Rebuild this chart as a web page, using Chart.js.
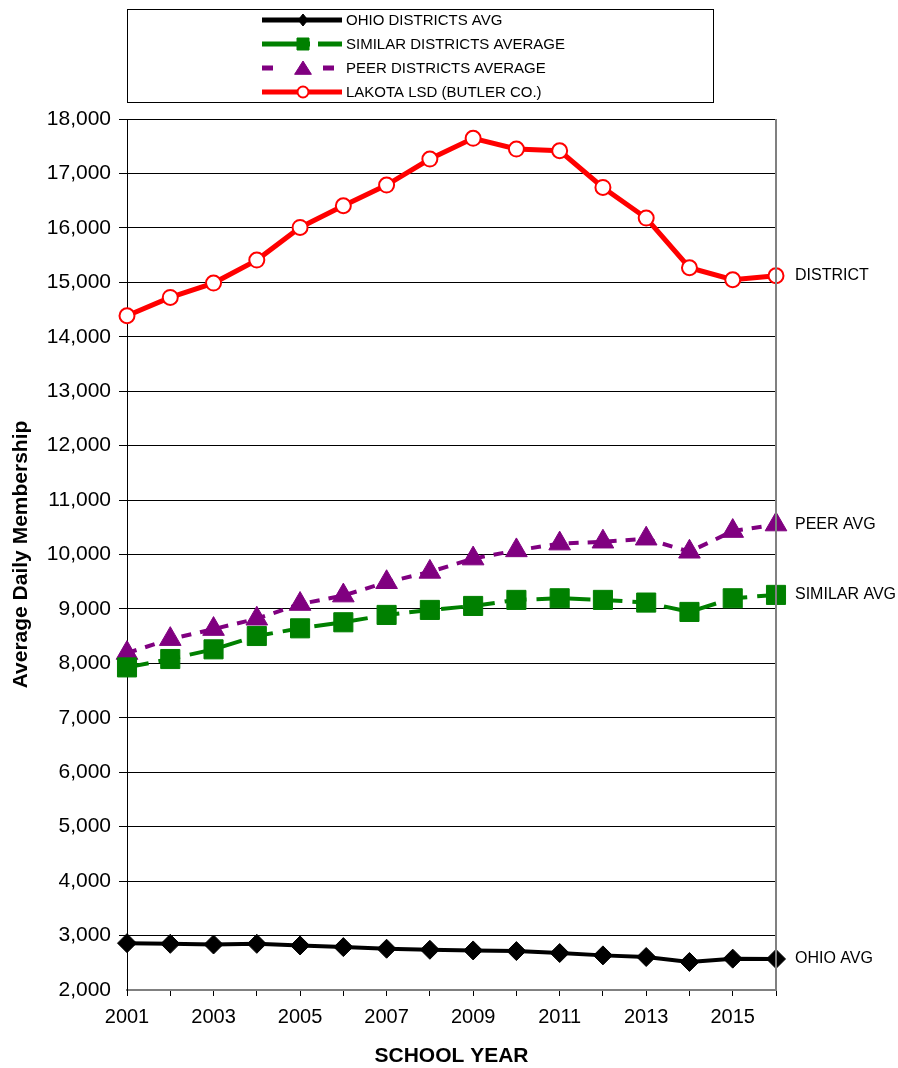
<!DOCTYPE html>
<html>
<head>
<meta charset="utf-8">
<script src="https://cdn.jsdelivr.net/npm/chart.js@4.4.1/dist/chart.umd.min.js"></script>
<style>
  html, body { margin: 0; padding: 0; background: #fff; }
  #wrap { width: 898px; height: 1068px; }
</style>
</head>
<body>
<div id="wrap"><canvas id="chart" width="898" height="1068"></canvas></div>
<script>
// data
const years = ['2001','2002','2003','2004','2005','2006','2007','2008','2009','2010','2011','2012','2013','2014','2015','2016'];
const ohioAvg    = [2861, 2848, 2836, 2848, 2818, 2788, 2758, 2739, 2727, 2715, 2679, 2636, 2606, 2515, 2576, 2570];
const similarAvg = [7926, 8080, 8258, 8503, 8644, 8755, 8890, 8982, 9055, 9166, 9196, 9166, 9117, 8945, 9196, 9258];
const peerAvg    = [8190, 8445, 8630, 8820, 9090, 9245, 9490, 9680, 9925, 10075, 10200, 10235, 10290, 10050, 10430, 10550];
const lakota     = [14386, 14723, 14986, 15408, 16008, 16406, 16786, 17264, 17645, 17448, 17417, 16743, 16180, 15268, 15047, 15121];
const seriesNames = ['OHIO DISTRICTS AVG', 'SIMILAR DISTRICTS AVERAGE', 'PEER DISTRICTS AVERAGE', 'LAKOTA LSD (BUTLER CO.)'];
const endLabels = ['OHIO AVG', 'SIMILAR AVG', 'PEER AVG', 'DISTRICT'];
const yMin = 2000, yMax = 18000, yStep = 1000;

Chart.defaults.font.family = '"Liberation Sans", Arial, sans-serif';
Chart.defaults.color = '#000';

// small marker painter for the legend samples
function drawMarker(ctx, style, x, y, r, fill, stroke, lw) {
  ctx.save();
  ctx.setLineDash([]);
  ctx.beginPath();
  if (style === 'circle') {
    ctx.arc(x, y, r, 0, Math.PI * 2);
  } else if (style === 'rect') {
    ctx.rect(x - r, y - r, r * 2, r * 2);
  } else if (style === 'rectRot') {
    ctx.moveTo(x, y - r); ctx.lineTo(x + r * 0.8, y); ctx.lineTo(x, y + r); ctx.lineTo(x - r * 0.8, y);
    ctx.closePath();
  } else if (style === 'triangle') {
    ctx.moveTo(x, y - r); ctx.lineTo(x + r * 1.2, y + r * 0.9); ctx.lineTo(x - r * 1.2, y + r * 0.9);
    ctx.closePath();
  }
  ctx.fillStyle = fill;
  ctx.fill();
  ctx.lineWidth = lw;
  ctx.strokeStyle = stroke;
  ctx.stroke();
  ctx.restore();
}

// legend sample look (dash pattern across the short sample line, marker size)
const legendDash = [[], [48, 8, 40], [11, 50, 11, 50], []];
const legendMarker = { rectRot: 6, rect: 6, triangle: 7, circle: 5.5 };

const decorPlugin = {
  id: 'decor',
  afterDraw(chart) {
    const ctx = chart.ctx;
    const area = chart.chartArea;

    // gray frame on the right side of the plot
    ctx.save();
    ctx.strokeStyle = '#808080';
    ctx.lineWidth = 2;
    ctx.beginPath();
    ctx.moveTo(area.right, area.top);
    ctx.lineTo(area.right, area.bottom);
    ctx.stroke();
    ctx.restore();

    // labels at the end of each line
    ctx.save();
    ctx.font = '16px "Liberation Sans", Arial, sans-serif';
    ctx.fillStyle = '#000';
    ctx.textBaseline = 'middle';
    ctx.textAlign = 'left';
    chart.data.datasets.forEach((ds, i) => {
      const pts = chart.getDatasetMeta(i).data;
      const last = pts[pts.length - 1];
      ctx.fillText(endLabels[i], area.right + 19, last.y);
    });
    ctx.restore();

    // legend box
    const box = { x: 127.5, y: 9.5, w: 586, h: 93 };
    ctx.save();
    ctx.strokeStyle = '#000';
    ctx.lineWidth = 1;
    ctx.strokeRect(box.x, box.y, box.w, box.h);
    ctx.font = '15px "Liberation Sans", Arial, sans-serif';
    ctx.textBaseline = 'middle';
    chart.data.datasets.forEach((ds, i) => {
      const y = 20 + i * 24;
      ctx.save();
      ctx.strokeStyle = ds.borderColor;
      ctx.lineWidth = 5;
      ctx.setLineDash(legendDash[i]);
      ctx.beginPath();
      ctx.moveTo(262, y);
      ctx.lineTo(342, y);
      ctx.stroke();
      ctx.restore();
      drawMarker(ctx, ds.pointStyle, 303, y, legendMarker[ds.pointStyle],
        ds.pointBackgroundColor, ds.pointBorderColor, ds.pointStyle === 'circle' ? 2 : 1);
      ctx.fillStyle = '#000';
      ctx.fillText(ds.label, 346, y + 1);
    });
    ctx.restore();
  }
};

const ctx = document.getElementById('chart').getContext('2d');
new Chart(ctx, {
  type: 'line',
  data: {
    labels: years,
    datasets: [
      {
        label: seriesNames[0],
        data: ohioAvg,
        borderColor: '#000000',
        borderWidth: 4,
        pointStyle: 'rectRot',
        pointRadius: 9.5,
        pointBackgroundColor: '#000000',
        pointBorderColor: '#000000',
        pointBorderWidth: 1,
        clip: false
      },
      {
        label: seriesNames[1],
        data: similarAvg,
        borderColor: '#008000',
        borderWidth: 4,
        borderDash: [22, 10],
        pointStyle: 'rect',
        pointRadius: 13.5,
        pointBackgroundColor: '#008000',
        pointBorderColor: '#008000',
        pointBorderWidth: 1,
        clip: false
      },
      {
        label: seriesNames[2],
        data: peerAvg,
        borderColor: '#800080',
        borderWidth: 4,
        borderDash: [10, 9],
        pointStyle: 'triangle',
        pointRadius: 12.5,
        pointBackgroundColor: '#800080',
        pointBorderColor: '#800080',
        pointBorderWidth: 1,
        clip: false
      },
      {
        label: seriesNames[3],
        data: lakota,
        borderColor: '#ff0000',
        borderWidth: 5,
        pointStyle: 'circle',
        pointRadius: 7.5,
        pointBackgroundColor: '#ffffff',
        pointBorderColor: '#ff0000',
        pointBorderWidth: 2,
        clip: false
      }
    ]
  },
  options: {
    responsive: false,
    animation: false,
    devicePixelRatio: 1,
    layout: { padding: { top: 119, right: 122, bottom: 0, left: 0 } },
    plugins: {
      legend: { display: false },
      tooltip: { enabled: false }
    },
    elements: { line: { tension: 0 } },
    scales: {
      x: {
        type: 'category',
        offset: false,
        grid: { drawOnChartArea: false, drawTicks: true, tickLength: 6, color: '#000' },
        border: { color: '#808080', width: 2 },
        ticks: {
          autoSkip: false,
          maxRotation: 0,
          padding: 9,
          font: { size: 20 },
          color: '#000',
          callback: (v, i) => (i % 2 === 0 ? years[i] : '')
        },
        title: {
          display: true,
          text: 'SCHOOL YEAR',
          font: { size: 21, weight: 'bold', lineHeight: 1 },
          padding: { top: 0, bottom: 1 },
          color: '#000'
        },
        afterFit: s => { s.height = 78; }
      },
      y: {
        min: yMin,
        max: yMax,
        grid: {
          color: c => (c.tick && c.tick.value === yMin ? 'rgba(0,0,0,0)' : '#000'),
          lineWidth: 1,
          tickLength: 8
        },
        border: { color: '#000', width: 1 },
        ticks: {
          stepSize: yStep,
          padding: 8,
          font: { size: 21 },
          color: '#000',
          callback: v => v.toLocaleString('en-US')
        },
        title: {
          display: true,
          text: 'Average Daily Membership',
          font: { size: 21, weight: 'bold', lineHeight: 1 },
          padding: { top: 11, bottom: 0 },
          color: '#000'
        },
        afterFit: s => { s.width = 127; }
      }
    }
  },
  plugins: [decorPlugin]
});
</script>
</body>
</html>
